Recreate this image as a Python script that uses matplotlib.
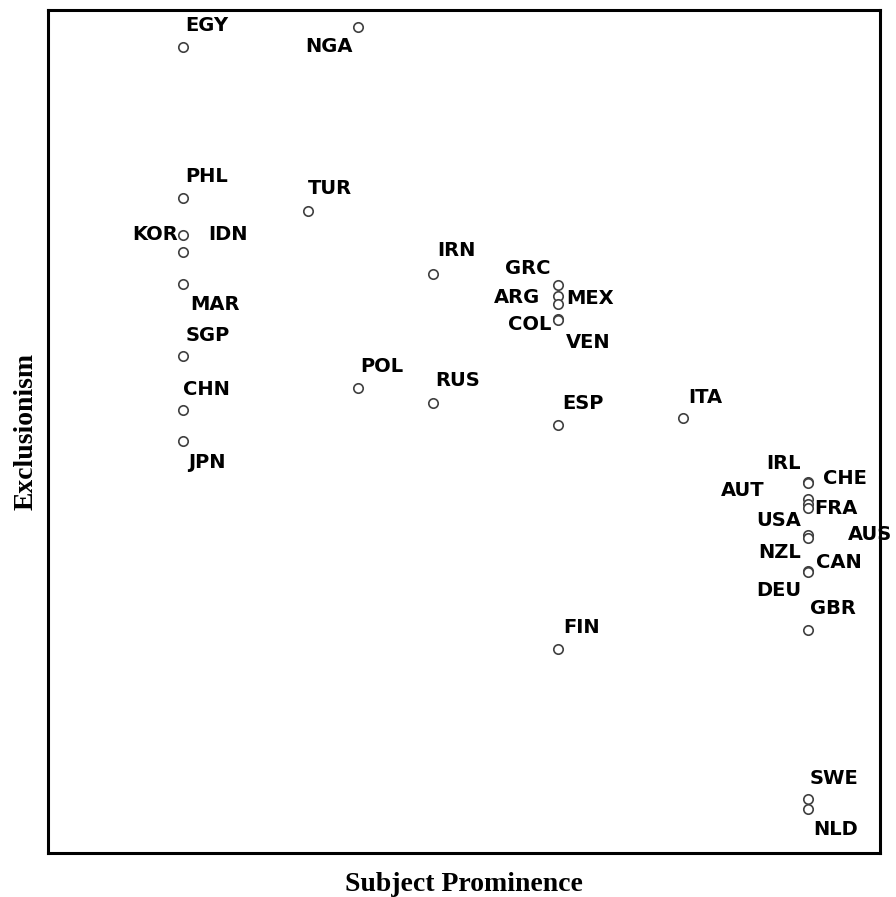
import matplotlib
matplotlib.use("Agg")
import matplotlib.pyplot as plt

countries = ["EGY", "NGA", "PHL", "TUR", "KOR", "IDN", "MAR", "IRN", "GRC", "ARG",
             "MEX", "COL", "VEN", "SGP", "POL", "RUS", "CHN", "ESP", "ITA", "JPN",
             "IRL", "CHE", "AUT", "FRA", "USA", "AUS", "NZL", "CAN", "DEU", "GBR",
             "FIN", "SWE", "NLD"]
subject_prominence = [1.0, 2.4, 1.0, 2.0, 1.0, 1.0, 1.0, 3.0, 4.0, 4.0,
                      4.0, 4.0, 4.0, 1.0, 2.4, 3.0, 1.0, 4.0, 5.0, 1.0,
                      6.0, 6.0, 6.0, 6.0, 6.0, 6.0, 6.0, 6.0, 6.0, 6.0,
                      4.0, 6.0, 6.0]
exclusionism = [8.13, 8.33, 6.62, 6.49, 6.25, 6.08, 5.76, 5.86, 5.75, 5.64,
                5.56, 5.41, 5.40, 5.04, 4.72, 4.57, 4.50, 4.35, 4.42, 4.19,
                3.78, 3.77, 3.61, 3.56, 3.52, 3.25, 3.22, 2.89, 2.88, 2.30,
                2.11, 0.61, 0.51]

# label offsets in pixels (dx, dy) and horizontal alignment
offsets = {
    "EGY": (2, 21, "left"), "NGA": (-53, -20, "left"), "PHL": (2, 22, "left"),
    "TUR": (0, 22, "left"), "KOR": (-5, 1, "right"), "IDN": (25, 18, "left"),
    "MAR": (7, -20, "left"), "IRN": (4, 23, "left"), "GRC": (-7, 17, "right"),
    "ARG": (-18, -1, "right"), "MEX": (8, 6, "left"), "COL": (-7, -6, "right"),
    "VEN": (8, -22, "left"), "SGP": (3, 21, "left"), "POL": (2, 22, "left"),
    "RUS": (2, 23, "left"), "CHN": (0, 21, "left"), "ESP": (4, 22, "left"),
    "ITA": (5, 21, "left"), "JPN": (5, -21, "left"), "IRL": (-7, 19, "right"),
    "CHE": (15, 5, "left"), "AUT": (-43, 9, "right"), "FRA": (6, -4, "left"),
    "USA": (-7, -13, "right"), "AUS": (40, 1, "left"), "NZL": (-7, -15, "right"),
    "CAN": (8, 8, "left"), "DEU": (-7, -18, "right"), "GBR": (2, 22, "left"),
    "FIN": (5, 22, "left"), "SWE": (2, 21, "left"), "NLD": (5, -20, "left"),
}

fig = plt.figure(figsize=(8.96, 8.97), dpi=100)
ax = fig.add_axes([48 / 896, 44 / 897, 832 / 896, 843 / 897])
ax.scatter(subject_prominence, exclusionism, s=46, facecolors="white",
           edgecolors="#404040", linewidths=1.2, zorder=3)
for c, x, y in zip(countries, subject_prominence, exclusionism):
    dx, dy, ha = offsets[c]
    ax.annotate(c, (x, y), xytext=(dx, dy), textcoords="offset pixels",
                ha=ha, va="center", fontsize=14, fontweight="bold",
                family="DejaVu Sans", color="black")

ax.set_xlim(-0.08, 6.576)
ax.set_ylim(0.07, 8.5)
ax.set_xticks([])
ax.set_yticks([])
for s in ax.spines.values():
    s.set_linewidth(2.2)
    s.set_color("black")
ax.set_xlabel("Subject Prominence", fontsize=20, fontweight="bold",
              family="Liberation Serif", labelpad=14)
ax.set_ylabel("Exclusionism", fontsize=20, fontweight="bold",
              family="Liberation Serif", labelpad=7)
fig.savefig("out.png", dpi=100)
